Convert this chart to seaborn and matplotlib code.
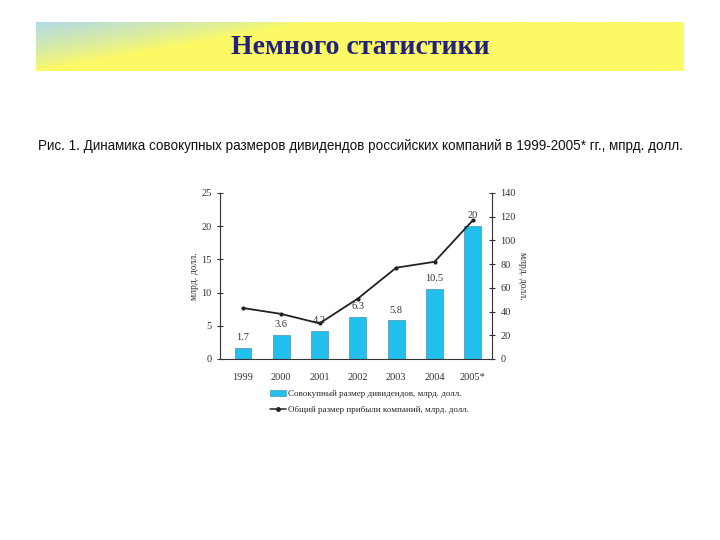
import numpy as np
import pandas as pd
import seaborn as sns
import matplotlib
matplotlib.use("Agg")
from matplotlib import pyplot as plt
from matplotlib import font_manager
from matplotlib.patches import Patch
from matplotlib.lines import Line2D

years = ["1999", "2000", "2001", "2002", "2003", "2004", "2005*"]
dividends = [1.7, 3.6, 4.2, 6.3, 5.8, 10.5, 20]
div_labels = ["1.7", "3.6", "4.2", "6.3", "5.8", "10.5", "20"]
profit = [43, 38, 30, 51, 77, 82, 117]

title = "Немного статистики"
caption = ("Рис. 1. Динамика совокупных размеров дивидендов российских компаний "
           "в 1999-2005* гг., мпрд. долл.")
ylabel = "млрд. долл."
legend_bar = "Совокупный размер дивидендов, млрд. долл."
legend_line = "Общий размер прибыли компаний, млрд. долл."

sns.set_style("white")
plt.rcParams["font.family"] = ["Liberation Serif", "DejaVu Serif"]

names = {f.name for f in font_manager.fontManager.ttflist}
narrow = "Liberation Sans Narrow" if "Liberation Sans Narrow" in names else "Liberation Sans"

fig = plt.figure(figsize=(7.2, 5.4), dpi=100)

# gradient banner
bax = fig.add_axes([36 / 720, 1 - 71 / 540, 648 / 720, 49 / 540])
gx, gy = np.meshgrid(np.linspace(0, 1, 300), np.linspace(0, 1, 60))
w = np.clip(1 - gx / 0.42 - gy * 1.0, 0, 1)[..., None] ** 0.8
blue = np.array([0.70, 0.86, 0.90])
yellow = np.array([0.99, 0.98, 0.40])
bax.imshow(w * blue + (1 - w) * yellow, aspect="auto", extent=(0, 1, 1, 0))
bax.axis("off")
fig.text(0.5, 1 - 48 / 540, title, ha="center", va="center", fontsize=20,
         fontweight="bold", color="#22227a", family=["Liberation Serif"])

cap = fig.text(360 / 720, 1 - 146 / 540, caption, ha="center", va="center",
               fontsize=11, family=[narrow, "DejaVu Sans"], color="#111111")
r = fig.canvas.get_renderer()
cw = cap.get_window_extent(r).width
cap.set_fontsize(11 * 646 / cw)

# chart
ax = fig.add_axes([220 / 720, 1 - 359 / 540, 272 / 720, 166 / 540])
df = pd.DataFrame({"year": years, "div": dividends, "profit": profit})
sns.barplot(data=df, x="year", y="div", color="#22c0ee", width=0.44,
            edgecolor="#4a8fb0", linewidth=0.5, saturation=1, ax=ax)
ax.set_xlim(-0.6, 6.47)
ax.set_ylim(0, 25)
ax.set_yticks(range(0, 26, 5))
for i, (v, t) in enumerate(zip(dividends, div_labels)):
    ax.text(i, v + 0.9, t, ha="center", va="bottom", fontsize=7.5, color="#333333")

ax2 = ax.twinx()
sns.lineplot(x=np.arange(len(years)), y=profit, ax=ax2, color="#222222",
             linewidth=1.3, marker="o", markersize=3, markeredgewidth=0)
ax2.set_ylim(0, 140)
ax2.set_yticks(range(0, 141, 20))

for a in (ax, ax2):
    a.spines["top"].set_visible(False)
    a.tick_params(labelsize=7.5, colors="#333333", length=5, direction="inout", width=0.8)
ax.spines["right"].set_visible(False)
ax.spines["left"].set_color("#333333")
ax2.spines["right"].set_color("#333333")
ax2.spines["left"].set_visible(False)
ax2.spines["bottom"].set_visible(False)
ax.spines["bottom"].set_color("#333333")
ax.set_xticks(np.arange(-0.5, 6.6, 1), minor=True)
ax.tick_params(axis="x", which="major", length=0, pad=10)
ax.tick_params(axis="x", which="minor", length=5, direction="inout", width=0.8)
ax.set_xlabel("")
ax.set_ylabel(ylabel, fontsize=7, color="#333333", labelpad=2)
ax2.set_ylabel(ylabel, fontsize=7, color="#333333", rotation=-90, labelpad=8)

handles = [Patch(facecolor="#22c0ee", edgecolor="#4a8fb0", linewidth=0.5),
           Line2D([0], [0], color="#222222", linewidth=1.1, marker="o", markersize=2.5)]
fig.legend(handles, [legend_bar, legend_line], loc="upper left",
           bbox_to_anchor=(265 / 720, 1 - 385 / 540), frameon=False, fontsize=6.5,
           handlelength=1.8, handletextpad=0.3, labelspacing=0.85, borderpad=0)

fig.savefig("out.png", dpi=100)
